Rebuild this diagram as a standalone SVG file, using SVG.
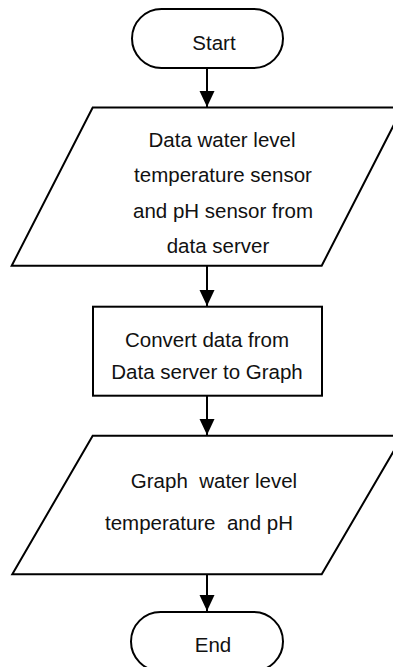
<svg xmlns="http://www.w3.org/2000/svg" width="393" height="667" viewBox="0 0 393 667">
  <style>
    .shape { fill: #ffffff; stroke: #000000; stroke-width: 2; }
    .label { font-family: "Liberation Sans", Arial, sans-serif; font-size: 20.5px; fill: #111111; text-anchor: middle; white-space: pre; }
    .edge { stroke: #000000; stroke-width: 2; fill: none; marker-end: url(#arrow); }
  </style>
  <defs>
    <marker id="arrow" markerUnits="userSpaceOnUse" markerWidth="16" markerHeight="16" viewBox="0 0 16 16" refX="16" refY="8" orient="auto">
      <path d="M0,0.5 L16,8 L0,15.5 Z" fill="#000000"/>
    </marker>
  </defs>
  <rect width="393" height="667" fill="#ffffff"/>

  <g id="connectors">
    <line class="edge" x1="207" y1="68.5" x2="207" y2="107"/>
    <line class="edge" x1="207" y1="266" x2="207" y2="306"/>
    <line class="edge" x1="207" y1="396" x2="207" y2="435"/>
    <line class="edge" x1="207" y1="574.5" x2="207" y2="611"/>
  </g>

  <g id="start">
    <rect class="shape" x="132" y="9" width="151" height="59" rx="29.5" ry="29.5"/>
    <text class="label" x="214" y="50">Start</text>
  </g>

  <g id="input-data">
    <polygon class="shape" points="92.7,107.5 402.7,107.5 321.7,265.7 11.7,265.7"/>
    <text class="label" x="222" y="147">Data water level</text>
    <text class="label" x="223" y="182">temperature sensor</text>
    <text class="label" x="223" y="218">and pH sensor from</text>
    <text class="label" x="218" y="253">data server</text>
  </g>

  <g id="convert">
    <rect class="shape" x="93" y="306.7" width="229" height="89"/>
    <text class="label" x="207" y="347">Convert data from</text>
    <text class="label" x="207" y="379">Data server to Graph</text>
  </g>

  <g id="output-graph">
    <polygon class="shape" points="92.7,435.7 402.7,435.7 321.7,574.3 12.3,574.3"/>
    <text class="label" x="214" y="488">Graph  water level</text>
    <text class="label" x="199" y="530">temperature  and pH</text>
  </g>

  <g id="end">
    <rect class="shape" x="131" y="612" width="152" height="59" rx="29.5" ry="29.5"/>
    <text class="label" x="213" y="652">End</text>
  </g>
</svg>
